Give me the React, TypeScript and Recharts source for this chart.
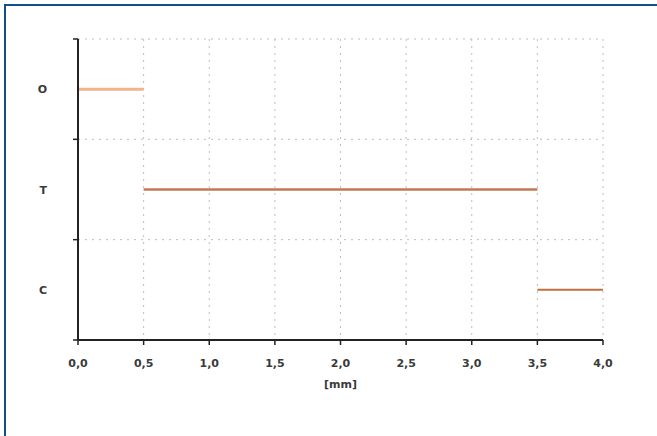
import { LineChart, Line, XAxis, YAxis, CartesianGrid, Label } from "recharts";

// categories from bottom to top
const categories = ["C", "T", "O"];
const xTicks = [0, 0.5, 1, 1.5, 2, 2.5, 3, 3.5, 4];
const yTicks = [0, 0.5, 1, 1.5, 2, 2.5, 3];

// each state: start / end in mm and its row (0 = C, 1 = T, 2 = O)
const oSegment = [
  { x: 0, y: 2.5 },
  { x: 0.5, y: 2.5 },
];
const tSegment = [
  { x: 0.5, y: 1.5 },
  { x: 3.5, y: 1.5 },
];
const cSegment = [
  { x: 3.5, y: 0.5 },
  { x: 4, y: 0.5 },
];

const font = "'DejaVu Sans', Verdana, sans-serif";
const textStyle = { fontSize: 11, fill: "#3a3a3a", fontFamily: font, fontWeight: 700 };

function CategoryTick(props: any) {
  const { x, y, payload } = props;
  const v = payload.value as number;
  if (Number.isInteger(v)) {
    return <line x1={x} x2={x + 5} y1={y} y2={y} stroke="#222" strokeWidth={1.5} />;
  }
  return (
    <text x={x - 26} y={y} dy={4} textAnchor="end" {...textStyle}>
      {categories[Math.floor(v)]}
    </text>
  );
}

export default function App() {
  return (
    <div style={{ position: "absolute", top: 0, left: 0, width: 657, height: 436, background: "#fff", overflow: "hidden" }}>
      <div
        style={{
          position: "absolute",
          left: 4,
          top: 4,
          width: 700,
          height: 500,
          borderTop: "2px solid #134e8c",
          borderLeft: "2px solid #134e8c",
        }}
      />
      <div style={{ position: "absolute", top: 0, left: 0 }}>
        <LineChart width={657} height={436} margin={{ top: 39, right: 54, left: 28, bottom: 36 }}>
          <CartesianGrid
            stroke="#bdbdbd"
            strokeDasharray="2 5"
            horizontalValues={[1, 2, 3]}
            verticalValues={[0.5, 1, 1.5, 2, 2.5, 3, 3.5, 4]}
          />
          <XAxis
            dataKey="x"
            type="number"
            domain={[0, 4]}
            ticks={xTicks}
            interval={0}
            height={60}
            allowDuplicatedCategory={false}
            tickFormatter={(v: number) => v.toFixed(1).replace(".", ",")}
            tick={textStyle}
            tickSize={5}
            tickMargin={14}
            axisLine={{ stroke: "#222", strokeWidth: 2 }}
            tickLine={{ stroke: "#222", strokeWidth: 1.5 }}
          >
            <Label value="[mm]" position="insideBottom" offset={12} style={textStyle} />
          </XAxis>
          <YAxis
            type="number"
            domain={[0, 3]}
            ticks={yTicks}
            interval={0}
            width={50}
            tickSize={5}
            tickMargin={0}
            tickLine={false}
            tick={<CategoryTick />}
            axisLine={{ stroke: "#222", strokeWidth: 2 }}
          />
          <Line data={oSegment} dataKey="y" type="linear" stroke="#f2b48c" strokeWidth={3} dot={false} isAnimationActive={false} />
          <Line data={tSegment} dataKey="y" type="linear" stroke="#c27a54" strokeWidth={2.5} dot={false} isAnimationActive={false} />
          <Line data={cSegment} dataKey="y" type="linear" stroke="#c0703f" strokeWidth={2} dot={false} isAnimationActive={false} />
        </LineChart>
      </div>
    </div>
  );
}
